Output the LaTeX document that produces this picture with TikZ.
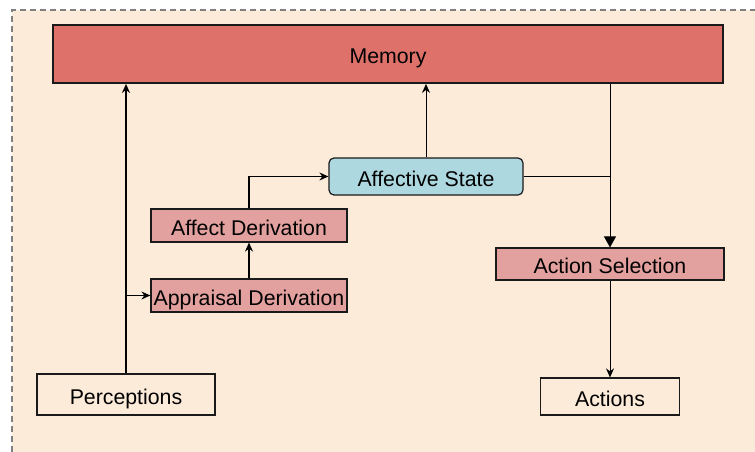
\documentclass[tikz,border=0pt]{standalone}
\usepackage{fontspec}
\setmainfont{Liberation Sans}
\usetikzlibrary{arrows.meta}
\definecolor{bgpeach}{HTML}{FDEBD9}
\definecolor{memred}{HTML}{DE7169}
\definecolor{boxpink}{HTML}{E2A19F}
\definecolor{affblue}{HTML}{ADD8E0}
\definecolor{dashgrey}{HTML}{808080}
\definecolor{edge}{HTML}{1A1A1A}
\begin{document}
\begin{tikzpicture}[x=1pt,y=-1pt,
  box/.style={draw=edge,line width=1.2pt,inner sep=0pt,font=\fontsize{21.3}{24}\selectfont,text=black,text height=19pt,text depth=0pt},
  pinkbox/.style={box,fill=boxpink},
  plainbox/.style={box},
  conn/.style={draw=black,line width=1.1pt},
  tip/.style={-{Stealth[length=9pt,width=8pt]}},
  bigtip/.style={-{Triangle[length=11pt,width=12pt]}}]
\useasboundingbox (0,0) rectangle (755,452);
\fill[white] (0,0) rectangle (755,452);
\fill[bgpeach] (12,10) rectangle (755,452);
\draw[dashgrey,line width=2pt,dash pattern=on 6pt off 4pt] (12,452) -- (12,10) -- (755,10);
% nodes
\node[box,fill=memred,line width=1.8pt,minimum width=670pt,minimum height=58pt] (mem) at (388,54) {Memory};
\node[box,fill=affblue,rounded corners=5pt,minimum width=194pt,minimum height=37pt] (aff) at (426,176.5) {Affective State};
\node[pinkbox,minimum width=196pt,minimum height=33pt] (ad) at (249,225.5) {Affect Derivation};
\node[pinkbox,minimum width=196pt,minimum height=33pt] (ap) at (249,295.5) {Appraisal Derivation};
\node[pinkbox,minimum width=228pt,minimum height=32pt] (as) at (610,264) {Action Selection};
\node[plainbox,minimum width=178pt,minimum height=41pt] (per) at (126,394.5) {Perceptions};
\node[plainbox,minimum width=139pt,minimum height=37pt] (act) at (610,396.5) {Actions};
% connectors
\draw[conn,line width=1.7pt,tip] (per.north) -- (per.north |- mem.south);
\draw[conn,tip] (per.north |- ap.west) -- (ap.west);
\draw[conn,line width=1.4pt,tip] (ap.north) -- (ad.south);
\draw[conn,tip] (ad.north) |- (aff.west);
\draw[conn,line width=0.9pt,tip] (aff.north) -- (aff.north |- mem.south);
\draw[conn,line width=1pt,bigtip] (as.north |- mem.south) -- (as.north);
\draw[conn,line width=1pt] (aff.east) -- (aff.east -| as.north);
\draw[conn,line width=1pt,tip] (as.south) -- (act.north);
\end{tikzpicture}
\end{document}
